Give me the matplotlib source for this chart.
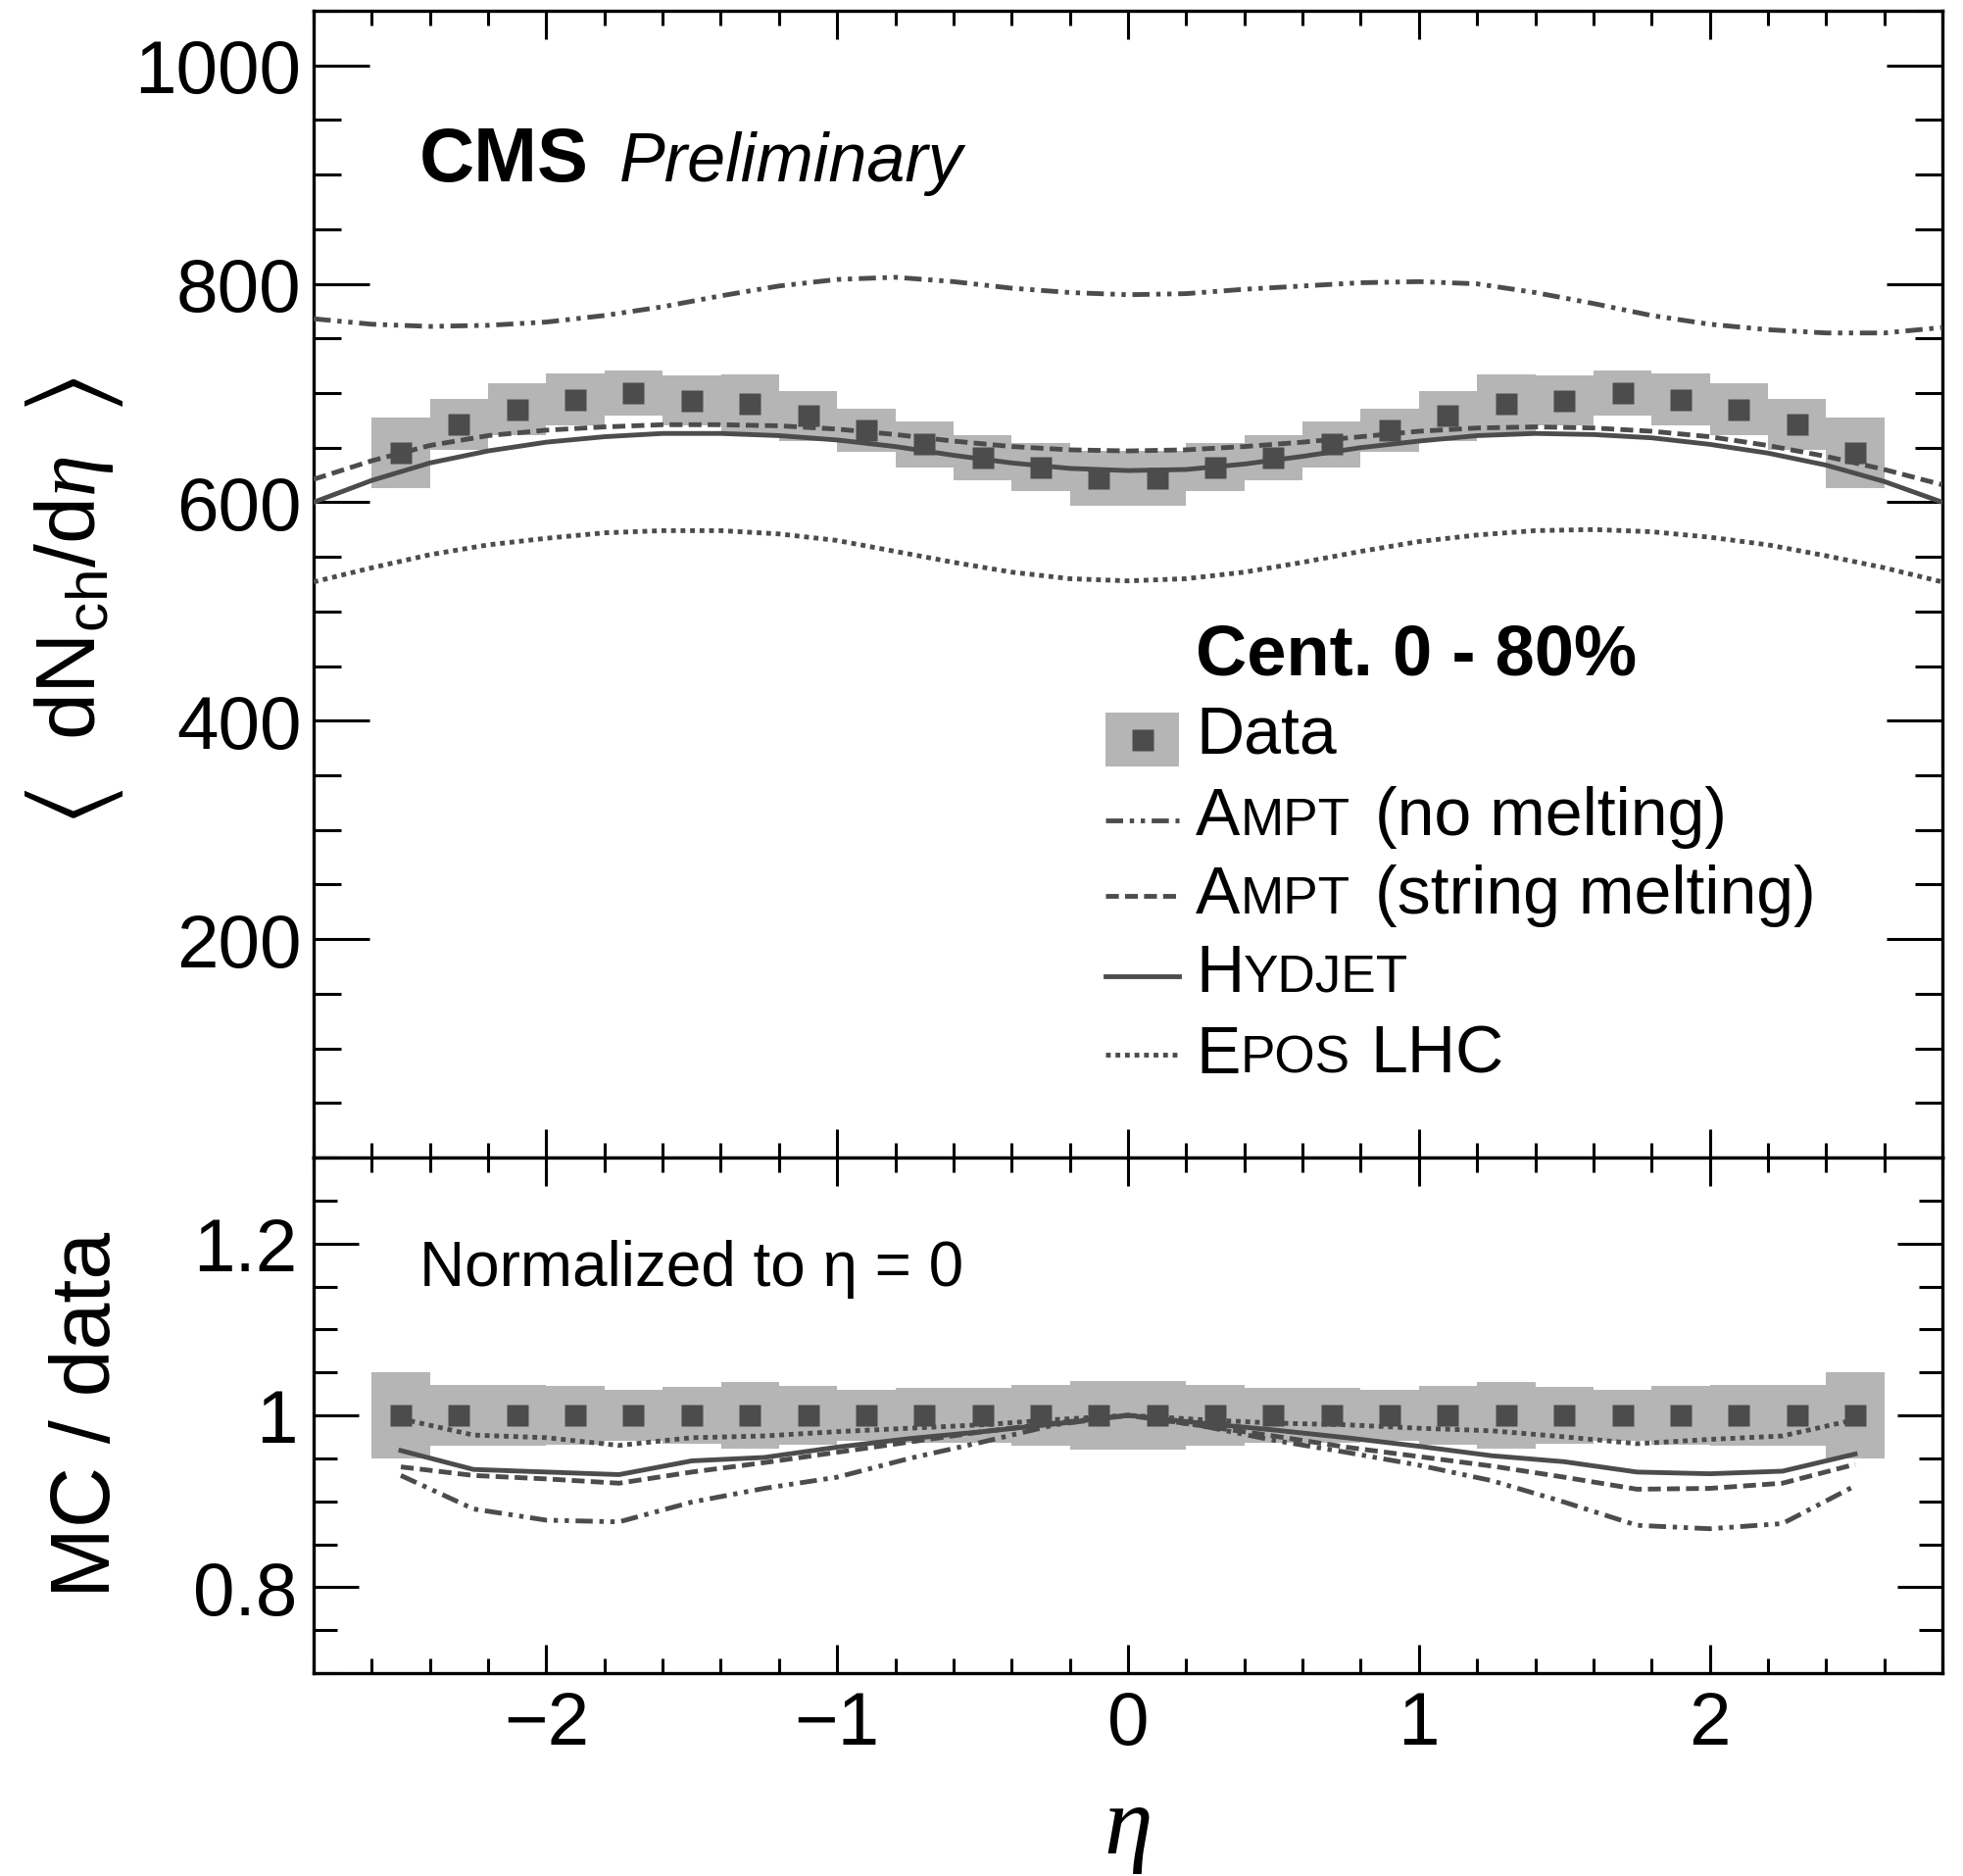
import numpy as np
import matplotlib
matplotlib.use("Agg")
import matplotlib.pyplot as plt
from matplotlib.ticker import MultipleLocator, FixedLocator, FixedFormatter
from matplotlib.transforms import ScaledTranslation
from matplotlib.patches import Rectangle

plt.rcParams['font.family'] = ['Liberation Sans', 'DejaVu Sans']
plt.rcParams['mathtext.fontset'] = 'custom'
plt.rcParams['mathtext.rm'] = 'Liberation Sans'
plt.rcParams['mathtext.it'] = 'Liberation Serif:italic'
plt.rcParams['mathtext.bf'] = 'Liberation Sans:bold'

# ---- measured charged-particle density, centrality 0-80% ----
eta_data = [-2.5, -2.3, -2.1, -1.9, -1.7, -1.5, -1.3, -1.1, -0.9, -0.7, -0.5, -0.3, -0.1,
            0.1, 0.3, 0.5, 0.7, 0.9, 1.1, 1.3, 1.5, 1.7, 1.9, 2.1, 2.3, 2.5]
dndeta = [645, 671, 685, 694, 700, 693, 690, 679, 666, 653, 641, 632, 622,
          622, 632, 641, 653, 666, 679, 690, 693, 700, 694, 685, 671, 645]
syst_rel = [0.050, 0.035, 0.035, 0.034, 0.030, 0.033, 0.039, 0.034, 0.030, 0.032, 0.032, 0.035, 0.040,
            0.040, 0.035, 0.032, 0.032, 0.030, 0.034, 0.039, 0.033, 0.030, 0.034, 0.035, 0.035, 0.050]

# ---- model predictions ----
eta_mc = [-2.8, -2.6, -2.4, -2.2, -2.0, -1.8, -1.6, -1.4, -1.2, -1.0, -0.8, -0.6, -0.4, -0.2, 0.0,
          0.2, 0.4, 0.6, 0.8, 1.0, 1.2, 1.4, 1.6, 1.8, 2.0, 2.2, 2.4, 2.6, 2.8]
ampt_nomelt = [768, 763, 761, 762, 765, 771, 779, 789, 798, 804, 806, 802, 796, 792, 790,
               791, 795, 798, 801, 802, 800, 792, 782, 771, 763, 758, 755, 755, 760]
ampt_melt = [621, 638, 652, 661, 666, 669, 671, 671, 670, 667, 662, 656, 651, 648, 647,
             648, 651, 655, 660, 665, 668, 669, 668, 665, 660, 652, 642, 630, 616]
hydjet = [600, 620, 636, 647, 655, 660, 663, 663, 661, 657, 651, 643, 636, 631, 629,
          630, 635, 642, 650, 656, 661, 663, 662, 659, 653, 645, 634, 619, 600]
epos = [527, 540, 552, 561, 567, 572, 574, 574, 571, 565, 555, 545, 536, 530, 528,
        530, 536, 545, 555, 564, 570, 574, 575, 573, 568, 561, 551, 540, 527]

# ---- MC / data, normalised at eta = 0 ----
eta_ratio = [-2.5, -2.25, -2.0, -1.75, -1.5, -1.25, -1.0, -0.75, -0.5, -0.25, 0.0,
             0.25, 0.5, 0.75, 1.0, 1.25, 1.5, 1.75, 2.0, 2.25, 2.5]
ratio_nomelt = [0.930, 0.891, 0.878, 0.876, 0.899, 0.915, 0.928, 0.950, 0.969, 0.989, 1.000,
                0.988, 0.971, 0.957, 0.942, 0.924, 0.899, 0.872, 0.868, 0.874, 0.918]
ratio_melt = [0.940, 0.930, 0.926, 0.921, 0.934, 0.945, 0.957, 0.969, 0.981, 0.991, 1.000,
              0.988, 0.976, 0.963, 0.952, 0.941, 0.928, 0.914, 0.915, 0.921, 0.943]
ratio_hydjet = [0.959, 0.937, 0.934, 0.931, 0.947, 0.951, 0.963, 0.973, 0.981, 0.990, 1.000,
                0.991, 0.983, 0.974, 0.964, 0.953, 0.946, 0.934, 0.932, 0.935, 0.955]
ratio_epos = [0.996, 0.977, 0.974, 0.965, 0.974, 0.976, 0.981, 0.985, 0.989, 0.995, 1.000,
              0.995, 0.991, 0.989, 0.985, 0.982, 0.975, 0.967, 0.972, 0.976, 0.995]

x_ticks = [-2, -1, 0, 1, 2]
x_ticklabels = ['\u22122', '\u22121', '0', '1', '2']
y_ticks_top = [200, 400, 600, 800, 1000]
y_ticks_bot = [0.8, 1.0, 1.2]
y_ticklabels_bot = ['0.8', '1', '1.2']

DARK = '#4c4c4c'
BOX = '#b5b5b5'
LW = 3.5
styles = {
    'nomelt': (0, (3.6, 1.4, 0.9, 1.4, 0.9, 1.4)),
    'melt': (0, (2.7, 1.3)),
    'hydjet': '-',
    'epos': (0, (1.0, 1.0)),
}

W, H = 2003, 1915
fig = plt.figure(figsize=(W / 100, H / 100), dpi=100)
L, R = 320 / W, 1982 / W
y_top, y_mid, y_bot = 1 - 12 / H, 1 - 1182 / H, 1 - 1708 / H
ax = fig.add_axes([L, y_mid, R - L, y_top - y_mid])
axr = fig.add_axes([L, y_bot, R - L, y_mid - y_bot])

eta_d = np.array(eta_data)
val = np.array(dndeta, dtype=float)
rel = np.array(syst_rel)

# upper panel
err = val * rel
ax.bar(eta_d, 2 * err, bottom=val - err, width=0.2, color=BOX, linewidth=0, zorder=1)
ax.plot(eta_mc, ampt_nomelt, color=DARK, lw=LW, ls=styles['nomelt'], zorder=3)
ax.plot(eta_mc, ampt_melt, color=DARK, lw=LW, ls=styles['melt'], zorder=3)
ax.plot(eta_mc, hydjet, color=DARK, lw=LW, ls=styles['hydjet'], zorder=3)
ax.plot(eta_mc, epos, color=DARK, lw=LW, ls=styles['epos'], zorder=3)
ax.plot(eta_d, val, 's', color=DARK, ms=15.5, mec='none', zorder=4)

# lower panel
ratio_data = val / val
axr.bar(eta_d, 2 * rel, bottom=ratio_data - rel, width=0.2, color=BOX, linewidth=0, zorder=1)
axr.plot(eta_ratio, ratio_nomelt, color=DARK, lw=LW, ls=styles['nomelt'], zorder=3)
axr.plot(eta_ratio, ratio_melt, color=DARK, lw=LW, ls=styles['melt'], zorder=3)
axr.plot(eta_ratio, ratio_hydjet, color=DARK, lw=LW, ls=styles['hydjet'], zorder=3)
axr.plot(eta_ratio, ratio_epos, color=DARK, lw=LW, ls=styles['epos'], zorder=3)
axr.plot(eta_d, ratio_data, 's', color=DARK, ms=15.5, mec='none', zorder=4)

TICK_FS = 55
for a in (ax, axr):
    a.set_xlim(-2.8, 2.8)
    a.xaxis.set_major_locator(FixedLocator(x_ticks))
    a.xaxis.set_minor_locator(MultipleLocator(0.2))
    for s in a.spines.values():
        s.set_linewidth(2.4)
    a.tick_params(which='both', direction='in', top=True, right=True, width=2.2, colors='black')
    a.tick_params(axis='x', which='major', length=21)
    a.tick_params(axis='x', which='minor', length=10.5)

ax.set_ylim(0, 1050)
ax.yaxis.set_major_locator(FixedLocator(y_ticks_top))
ax.yaxis.set_minor_locator(MultipleLocator(50))
ax.tick_params(axis='y', which='major', length=41, labelsize=TICK_FS, pad=9)
ax.tick_params(axis='y', which='minor', length=20)
ax.tick_params(axis='x', labelbottom=False)

axr.set_ylim(0.7, 1.3)
axr.yaxis.set_major_locator(FixedLocator(y_ticks_bot))
axr.yaxis.set_major_formatter(FixedFormatter(y_ticklabels_bot))
axr.yaxis.set_minor_locator(MultipleLocator(0.05))
axr.tick_params(axis='y', which='major', length=33, labelsize=TICK_FS, pad=12)
axr.tick_params(axis='y', which='minor', length=17)
axr.xaxis.set_major_formatter(FixedFormatter(x_ticklabels))
axr.tick_params(axis='x', which='major', labelsize=TICK_FS, pad=12)

# axis titles: thin angle brackets set larger than the enclosed quantity
YL_X = 76 / W
fig.text(YL_X, 1 - 824 / H, r'$\langle$', math_fontfamily='stix', rotation=90,
         ha='center', va='center', fontsize=78)
fig.text(YL_X, 1 - 404 / H, r'$\rangle$', math_fontfamily='stix', rotation=90,
         ha='center', va='center', fontsize=78)
fig.text(YL_X, 1 - 610 / H, r'$\mathrm{dN_{ch}/d}\eta$',
         rotation=90, ha='center', va='center', fontsize=62)
fig.text(90 / W, 1 - 1443 / H, 'MC / data', rotation=90, ha='center', va='center', fontsize=62)
fig.text(1151 / W, 24 / H, '\u03b7', family='Liberation Serif', style='italic',
         fontsize=72, ha='center', va='baseline')

# labels inside the panels
ax.text(0.065, 0.852, 'CMS', transform=ax.transAxes, fontsize=56, fontweight='bold',
        ha='left', va='baseline')
ax.text(0.1877, 0.852, 'Preliminary', transform=ax.transAxes, fontsize=50.5, style='italic',
        ha='left', va='baseline')
axr.text(0.065, 0.753, 'Normalized to \u03b7 = 0', transform=axr.transAxes, fontsize=46,
         ha='left', va='baseline')

# legend, built by hand so the generator names can use small capitals
renderer = fig.canvas.get_renderer()


def draw_pieces(a, x, y, pieces, size):
    dx = 0.0
    for p in pieces:
        if isinstance(p, float):
            dx += p * size / 72.0
            continue
        txt, scale = p
        t = a.text(x, y, txt, fontsize=size * scale, ha='left', va='baseline',
                   transform=a.transAxes + ScaledTranslation(dx, 0, fig.dpi_scale_trans))
        dx += t.get_window_extent(renderer).width / fig.dpi


LEG_SIZE = 49
SC = 0.78
x_txt = 0.5415
x_sym0, x_sym1 = 0.486, 0.5315
ax.text(x_txt, 0.4222, 'Cent. 0 - 80%', transform=ax.transAxes, fontsize=52,
        fontweight='bold', ha='left', va='baseline')

# data entry
ax.add_patch(Rectangle((x_sym0, 0.3645 - 0.0235), x_sym1 - x_sym0, 0.047,
                       transform=ax.transAxes, color=BOX, lw=0, clip_on=False))
ax.plot([(x_sym0 + x_sym1) / 2], [0.3645], 's', color=DARK, ms=15.5, mec='none',
        transform=ax.transAxes, clip_on=False)
draw_pieces(ax, x_txt, 0.3530, [('Data', 1.0)], LEG_SIZE)

entries = [
    (0.2821, 0.294, styles['nomelt'], [('A', 1.0), ('MPT', SC), 0.38, ('(no melting)', 1.0)]),
    (0.2137, 0.2282, styles['melt'], [('A', 1.0), ('MPT', SC), 0.38, ('(string melting)', 1.0)]),
    (0.1453, 0.1584, styles['hydjet'], [('H', 1.0), ('YDJET', SC)]),
    (0.0744, 0.0900, styles['epos'], [('E', 1.0), ('POS', SC), 0.3, ('LHC', 1.0)]),
]
for yb, ys, ls, pieces in entries:
    ax.plot([x_sym0, x_sym1], [ys, ys], color=DARK, lw=LW, ls=ls,
            transform=ax.transAxes, clip_on=False)
    draw_pieces(ax, x_txt, yb, pieces, LEG_SIZE)

fig.savefig('out.png', dpi=100)
